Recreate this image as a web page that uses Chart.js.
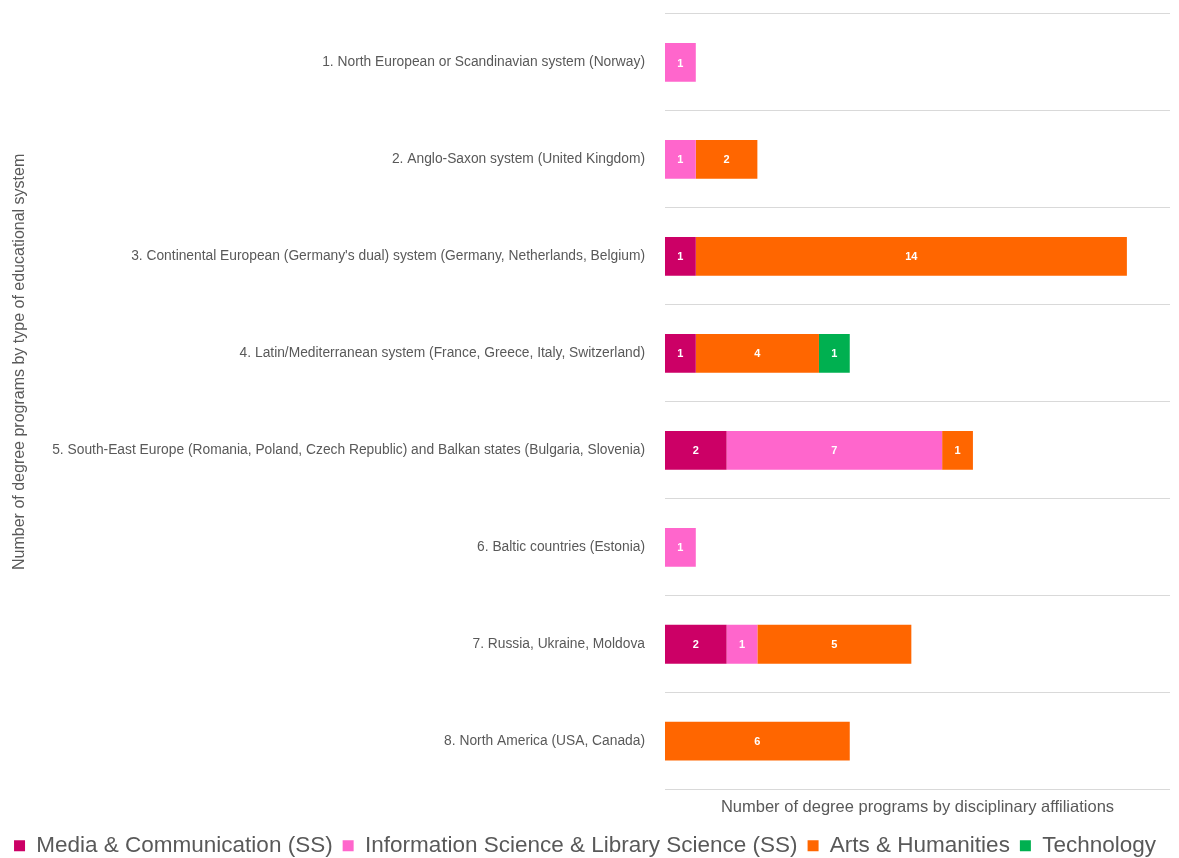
<!DOCTYPE html>
<html>
<head>
<meta charset="utf-8">
<script src="https://cdn.jsdelivr.net/npm/chart.js@4/dist/chart.umd.min.js"></script>
<style>
  html, body { margin: 0; padding: 0; background: #ffffff; }
  #wrap { width: 1179px; height: 858px; position: relative; }
</style>
</head>
<body>
<div id="wrap"><canvas id="chart"></canvas></div>
<script>
// Educational system types (one bar each)
const systems = [
  '1. North European or Scandinavian system (Norway)',
  '2. Anglo-Saxon system (United Kingdom)',
  "3. Continental European (Germany's dual) system (Germany, Netherlands, Belgium)",
  '4. Latin/Mediterranean system (France, Greece, Italy, Switzerland)',
  '5. South-East Europe (Romania, Poland, Czech Republic) and Balkan states (Bulgaria, Slovenia)',
  '6. Baltic countries (Estonia)',
  '7. Russia, Ukraine, Moldova',
  '8. North America (USA, Canada)'
];

// Degree programs per disciplinary affiliation
const mediaCommunication = [null, null, 1, 1, 2, null, 2, null];
const infoLibraryScience = [1, 1, null, null, 7, 1, 1, null];
const artsHumanities     = [null, 2, 14, 4, 1, null, 5, 6];
const technology         = [null, null, null, 1, null, null, null, null];

const seriesNames = [
  'Media & Communication (SS)',
  'Information Science & Library Science (SS)',
  'Arts & Humanities',
  'Technology'
];
const seriesColors = ['#CC0066', '#FF66CC', '#FF6600', '#00B050'];

const yTitle = 'Number of degree programs by type of educational system';
const xTitle = 'Number of degree programs by disciplinary affiliations';

const FONT = "'Liberation Sans', Arial, sans-serif";

// Writes each segment's value in white at its centre
const segmentLabels = {
  id: 'segmentLabels',
  afterDatasetsDraw(chart) {
    const ctx = chart.ctx;
    ctx.save();
    ctx.fillStyle = '#ffffff';
    ctx.font = 'bold 11px ' + FONT;
    ctx.textAlign = 'center';
    ctx.textBaseline = 'middle';
    chart.data.datasets.forEach((ds, i) => {
      const meta = chart.getDatasetMeta(i);
      meta.data.forEach((bar, j) => {
        const v = ds.data[j];
        if (v == null || v === 0) return;
        const p = bar.getProps(['x', 'y', 'base'], true);
        ctx.fillText(String(v), (p.x + p.base) / 2, p.y + 1);
      });
    });
    ctx.restore();
  }
};

// Rotated title for the category axis, sitting a little above the plot's middle
const categoryTitle = {
  id: 'categoryTitle',
  afterDraw(chart) {
    const ctx = chart.ctx;
    const area = chart.chartArea;
    ctx.save();
    ctx.translate(20, (area.top + area.bottom) / 2 - 40);
    ctx.rotate(-Math.PI / 2);
    ctx.fillStyle = '#595959';
    ctx.font = '16px ' + FONT;
    ctx.textAlign = 'center';
    ctx.textBaseline = 'middle';
    ctx.fillText(yTitle, 0, 0);
    ctx.restore();
  }
};

// Axes should not push the plot inward for their label overhang
function noOverhang(scale) {
  scale.paddingTop = 0;
  scale.paddingBottom = 0;
  scale.paddingLeft = 0;
  scale.paddingRight = 0;
}

const values = [mediaCommunication, infoLibraryScience, artsHumanities, technology];

new Chart(document.getElementById('chart'), {
  type: 'bar',
  data: {
    labels: systems,
    datasets: values.map((d, i) => ({
      label: seriesNames[i],
      data: d,
      backgroundColor: seriesColors[i],
      borderWidth: 0,
      categoryPercentage: 0.8,
      barPercentage: 0.5
    }))
  },
  options: {
    indexAxis: 'y',
    responsive: true,
    maintainAspectRatio: false,
    animation: false,
    layout: { padding: { top: 14, right: 9, left: 0, bottom: -9 } },
    scales: {
      x: {
        stacked: true,
        min: 0,
        max: 16.4,
        ticks: { display: false },
        grid: { display: false },
        border: { display: false },
        title: {
          display: true,
          text: xTitle,
          color: '#595959',
          font: { family: FONT, size: 16.5 },
          padding: { top: 0, bottom: 7 }
        },
        afterFit: noOverhang
      },
      y: {
        stacked: true,
        grid: { color: '#d9d9d9', lineWidth: 1, drawTicks: false, offset: true },
        border: { display: false },
        ticks: {
          color: '#595959',
          font: { family: FONT, size: 13.8 },
          padding: 20
        },
        afterFit(scale) {
          noOverhang(scale);
          scale.width = 665;
        }
      }
    },
    plugins: {
      tooltip: { enabled: false },
      legend: {
        position: 'bottom',
        labels: {
          color: '#595959',
          font: { family: FONT, size: 22.5 },
          boxWidth: 11,
          boxHeight: 11,
          padding: 10
        }
      }
    }
  },
  plugins: [segmentLabels, categoryTitle]
});
</script>
</body>
</html>
